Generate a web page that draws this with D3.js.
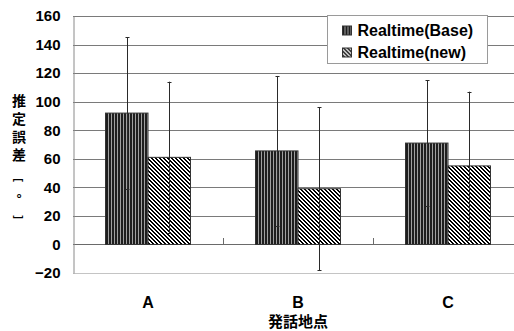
<!DOCTYPE html>
<meta charset="utf-8">
<body style="margin:0;background:#fff">
<div id="chart"></div>
</body>
<script src="https://cdn.jsdelivr.net/npm/d3@7"></script>
<script>
	const categories = ["A", "B", "C"];
	const seriesNames = ["Realtime(Base)", "Realtime(new)"];
	const baseValues = [92, 65.5, 71];
	const newValues = [61, 39, 55];
	const baseErrors = [53, 52.5, 44];
	const newErrors = [53, 57, 52];
	const yTicks = [-20, 0, 20, 40, 60, 80, 100, 120, 140, 160];
	const yTitle = ["推", "定", "誤", "差"];
	const yUnit = [["[", 180, true], ["°", 195, false], ["]", 217, true]];
	const xTitle = "発話地点";

	const width = 514, height = 331,
	    margin = {left: 73, top: 16, right: -9, bottom: 58};
	const plotW = width - margin.left - margin.right,
	    plotH = height - margin.top - margin.bottom;
	const latin = "'Liberation Sans', Arial, sans-serif",
	    cjk = "'Noto Sans CJK JP', sans-serif";

	const svg = d3.select("#chart").append("svg")
	    .attr("width", width)
	    .attr("height", height);

	// fill patterns
	const defs = svg.append("defs");
	const vert = defs.append("pattern")
	    .attr("id", "vstripe")
	    .attr("patternUnits", "userSpaceOnUse")
	    .attr("width", 3).attr("height", 4);
	vert.append("rect").attr("width", 3).attr("height", 4).style("fill", "#a0a0a0");
	vert.append("rect").attr("width", 2).attr("height", 4).style("fill", "#1e1e1e");

	const diag = defs.append("pattern")
	    .attr("id", "dstripe")
	    .attr("patternUnits", "userSpaceOnUse")
	    .attr("width", 4).attr("height", 4);
	diag.append("rect").attr("width", 4).attr("height", 4).style("fill", "#ffffff");
	d3.range(4).forEach(r => {
	    [r % 4, (r + 1) % 4].forEach(c => {
	        diag.append("rect")
	            .attr("x", c).attr("y", r)
	            .attr("width", 1).attr("height", 1)
	            .style("fill", "#000");
	    });
	});
	const fills = ["url(#vstripe)", "url(#dstripe)"];

	const x0 = d3.scaleBand().domain(categories).range([margin.left, margin.left + plotW]);
	const x1 = d3.scaleBand().domain(seriesNames).range([32.5, 117.5]);
	const y = d3.scaleLinear().domain([-20, 160]).range([margin.top + plotH, margin.top]);

	// gridlines
	svg.append("g")
	    .selectAll("line")
	    .data(yTicks.filter(d => d > -20))
	    .enter().append("line")
	    .attr("x1", margin.left).attr("x2", margin.left + plotW)
	    .attr("y1", d => Math.round(y(d)) + 0.5)
	    .attr("y2", d => Math.round(y(d)) + 0.5)
	    .style("stroke", d => d === 0 ? "#6a6a6a" : "#7a7a7a")
	    .style("stroke-width", 1);

	// bottom border
	svg.append("line")
	    .attr("x1", margin.left).attr("x2", margin.left + plotW)
	    .attr("y1", Math.round(y(-20)) + 0.5).attr("y2", Math.round(y(-20)) + 0.5)
	    .style("stroke", "#c4c4c4");

	// left axis line + labels
	const yAxis = svg.append("g")
	    .attr("transform", "translate(" + (margin.left + 0.5) + ",0)")
	    .call(d3.axisLeft(y).tickValues(yTicks).tickSize(0).tickPadding(13));
	yAxis.select(".domain").style("stroke", "#8a8a8a");
	yAxis.selectAll("text")
	    .style("font-family", latin)
	    .style("font-weight", "bold")
	    .style("font-size", "15px")
	    .style("fill", "#000");

	// category ticks on the zero line
	svg.append("g")
	    .selectAll("line")
	    .data(categories.slice(1))
	    .enter().append("line")
	    .attr("x1", d => Math.round(x0(d)) + 0.5)
	    .attr("x2", d => Math.round(x0(d)) + 0.5)
	    .attr("y1", Math.round(y(0)) - 6)
	    .attr("y2", Math.round(y(0)))
	    .style("stroke", "#6a6a6a");

	// bars
	const series = [baseValues, newValues];
	const errors = [baseErrors, newErrors];
	const groups = svg.append("g")
	    .selectAll("g")
	    .data(categories)
	    .enter().append("g")
	    .attr("transform", d => "translate(" + x0(d) + ",0)");

	groups.selectAll("rect")
	    .data((d, i) => seriesNames.map((s, k) => ({s: s, k: k, v: series[k][i]})))
	    .enter().append("rect")
	    .attr("x", d => x1(d.s))
	    .attr("y", d => y(d.v))
	    .attr("width", x1.bandwidth())
	    .attr("height", d => y(0) - y(d.v))
	    .style("fill", d => fills[d.k])
	    .style("stroke", "#333")
	    .style("stroke-width", 1);

	// error bars
	const eb = groups.selectAll("g.err")
	    .data((d, i) => seriesNames.map((s, k) => ({s: s, v: series[k][i], e: errors[k][i]})))
	    .enter().append("g")
	    .attr("class", "err")
	    .attr("transform", d => "translate(" + (Math.round(x1(d.s) + x1.bandwidth() / 2) + 0.5) + ",0)")
	    .style("stroke", "#2a2a2a");
	eb.append("line")
	    .attr("y1", d => y(d.v + d.e))
	    .attr("y2", d => y(d.v - d.e));
	eb.append("line")
	    .attr("x1", -2).attr("x2", 2)
	    .attr("y1", d => Math.round(y(d.v + d.e)) + 0.5)
	    .attr("y2", d => Math.round(y(d.v + d.e)) + 0.5);
	eb.append("line")
	    .attr("x1", -2).attr("x2", 2)
	    .attr("y1", d => Math.round(y(d.v - d.e)) + 0.5)
	    .attr("y2", d => Math.round(y(d.v - d.e)) + 0.5);

	// category labels
	svg.append("g")
	    .selectAll("text")
	    .data(categories)
	    .enter().append("text")
	    .attr("x", d => x0(d) + x0.bandwidth() / 2)
	    .attr("y", 308)
	    .attr("text-anchor", "middle")
	    .style("font-family", latin)
	    .style("font-weight", "bold")
	    .style("font-size", "16px")
	    .text(d => d);

	// x title
	svg.append("text")
	    .attr("x", 298)
	    .attr("y", 327)
	    .attr("text-anchor", "middle")
	    .style("font-family", cjk)
	    .style("font-weight", "bold")
	    .style("font-size", "15px")
	    .text(xTitle);

	// y title, stacked vertically in one text element
	svg.append("text")
	    .attr("y", 101)
	    .attr("text-anchor", "middle")
	    .style("font-family", cjk)
	    .style("font-weight", "bold")
	    .style("font-size", "14px")
	    .selectAll("tspan")
	    .data(yTitle)
	    .enter().append("tspan")
	    .attr("x", 19)
	    .attr("dy", (d, i) => i === 0 ? "0.36em" : 18)
	    .text(d => d);

	// unit brackets, turned like vertical writing
	yUnit.forEach(u => {
	    svg.append("text")
	        .attr("transform", "translate(19," + u[1] + ")" + (u[2] ? " rotate(90)" : ""))
	        .attr("text-anchor", "middle")
	        .attr("dy", u[2] ? "0.35em" : "0.6em")
	        .style("font-family", latin)
	        .style("font-size", u[2] ? "11px" : "13px")
	        .style("font-weight", "bold")
	        .text(u[0]);
	});

	// legend
	const legend = svg.append("g").attr("transform", "translate(327.5,15.5)");
	legend.append("rect")
	    .attr("width", 160).attr("height", 48)
	    .style("fill", "#fff")
	    .style("stroke", "#9a9a9a");
	seriesNames.forEach((s, k) => {
	    const row = legend.append("g").attr("transform", "translate(0," + (15 + k * 22) + ")");
	    row.append("rect")
	        .attr("x", 15).attr("y", -4.5)
	        .attr("width", 9).attr("height", 9)
	        .style("fill", fills[k])
	        .style("stroke", "#333");
	    row.append("text")
	        .attr("x", 30)
	        .attr("dy", "0.36em")
	        .style("font-family", latin)
	        .style("font-weight", "bold")
	        .style("font-size", "16px")
	        .text(s);
	});
</script>
